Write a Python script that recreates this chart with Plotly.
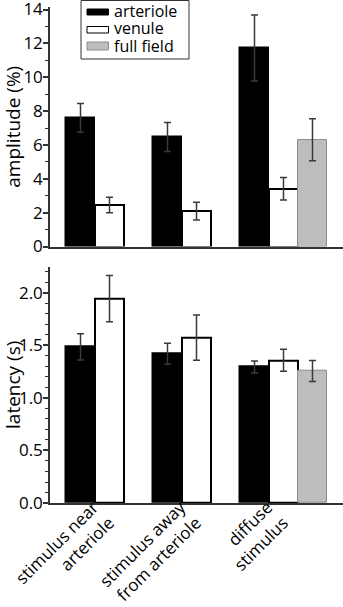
import plotly.graph_objects as go

categories = ["stimulus near<br>arteriole", "stimulus away<br>from arteriole", "diffuse<br>stimulus"]
series_names = ["arteriole", "venule", "full field"]

amp_arteriole = [7.6, 6.47, 11.73]
amp_arteriole_err = [0.85, 0.85, 1.95]
amp_venule = [2.45, 2.09, 3.41]
amp_venule_err = [0.46, 0.52, 0.67]
amp_full = [None, None, 6.31]
amp_full_err = [0, 0, 1.24]

lat_arteriole = [1.486, 1.42, 1.295]
lat_arteriole_err = [0.125, 0.10, 0.057]
lat_venule = [1.947, 1.575, 1.359]
lat_venule_err = [0.22, 0.215, 0.105]
lat_full = [None, None, 1.257]
lat_full_err = [0, 0, 0.10]

FONT = "Open Sans"
AXC = "#333333"
ERRC = "#3a3a3a"

W, H = 343, 607
ML, MR, MT, MB = 50, 0, 7, 104
PW, PH = W - ML - MR, H - MT - MB


def px(x):
    return (x - ML) / PW


def py(y):
    return (H - MB - y) / PH


styles = [
    dict(color="black", line=dict(color="black", width=1.5)),
    dict(color="white", line=dict(color="black", width=2)),
    dict(color="#bdbdbd", line=dict(color="#8c8c8c", width=1)),
]

fig = go.Figure()
top = [(amp_arteriole, amp_arteriole_err), (amp_venule, amp_venule_err), (amp_full, amp_full_err)]
bot = [(lat_arteriole, lat_arteriole_err), (lat_venule, lat_venule_err), (lat_full, lat_full_err)]
for i, name in enumerate(series_names):
    v, e = top[i]
    fig.add_trace(go.Bar(x=categories, y=v, name=name, marker=styles[i],
                         error_y=dict(type="data", array=e, color=ERRC, thickness=1.5, width=3.5),
                         xaxis="x", yaxis="y", showlegend=False))
for i, name in enumerate(series_names):
    v, e = bot[i]
    fig.add_trace(go.Bar(x=categories, y=v, name=name, marker=styles[i],
                         error_y=dict(type="data", array=e, color=ERRC, thickness=1.5, width=3.5),
                         xaxis="x2", yaxis="y2", showlegend=False))

# legend drawn as a framed key (box, swatches, labels)
shapes = [dict(type="rect", xref="paper", yref="paper", x0=px(81), x1=px(189), y0=py(59), y1=py(0.5),
               line=dict(color=AXC, width=1), fillcolor="white", layer="above")]
annotations = []
sw_y = [(9, 15), (26.5, 33), (42, 50)]
txt_y = [11.5, 28.5, 46]
for i, name in enumerate(series_names):
    st = styles[i]
    shapes.append(dict(type="rect", xref="paper", yref="paper", x0=px(87), x1=px(108.5),
                       y0=py(sw_y[i][1]), y1=py(sw_y[i][0]), fillcolor=st["color"],
                       line=dict(color=st["line"]["color"], width=1), layer="above"))
    annotations.append(dict(text=name, xref="paper", yref="paper", x=px(113), y=py(txt_y[i]),
                            xanchor="left", yanchor="middle", showarrow=False, borderpad=0,
                            font=dict(size=16, family=FONT, color="black")))

xr = [-0.684, 2.684]
common_x = dict(type="category", range=xr, showline=True, linecolor=AXC, linewidth=1.5,
                ticks="", showgrid=False, zeroline=False, fixedrange=True, automargin=False)
common_y = dict(showline=True, linecolor=AXC, linewidth=1.5, ticks="outside", ticklen=5,
                tickcolor=AXC, tickwidth=1.5, showgrid=False, zeroline=False, automargin=False,
                ticklabeloverflow="allow", ticklabelstandoff=-3, tickfont=dict(size=17),
                fixedrange=True)
fig.update_layout(
    width=W, height=H,
    margin=dict(l=ML, r=MR, t=MT, b=MB, autoexpand=False),
    paper_bgcolor="white", plot_bgcolor="white",
    barmode="group", bargap=0, bargroupgap=0,
    font=dict(family=FONT, color="black", size=17),
    xaxis=dict(common_x, anchor="y", domain=[0, 1], showticklabels=False),
    xaxis2=dict(common_x, anchor="y2", domain=[0, 1], tickangle=-45,
                ticklabelshift=-16, ticklabelstandoff=-14, ticklabeloverflow="allow",
                tickfont=dict(size=17, family=FONT)),
    yaxis=dict(common_y, domain=[py(246.5), 1], range=[0, 14.15], dtick=2, tick0=0,
               minor=dict(dtick=1, ticks="outside", ticklen=3, tickcolor=AXC, tickwidth=1),
               title=dict(text="amplitude (%)", font=dict(size=19, family=FONT), standoff=3)),
    yaxis2=dict(common_y, domain=[0, py(266.7)], range=[0, 2.25], dtick=0.5, tick0=0,
                tickformat=".1f",
                minor=dict(dtick=0.1, ticks="outside", ticklen=3, tickcolor=AXC, tickwidth=1),
                title=dict(text="latency (s)", font=dict(size=19, family=FONT), standoff=3)),
    shapes=shapes,
    annotations=annotations,
    showlegend=False,
)

fig.write_html("out.html", config={"displayModeBar": False},
               post_script="document.body.style.margin='0';")
